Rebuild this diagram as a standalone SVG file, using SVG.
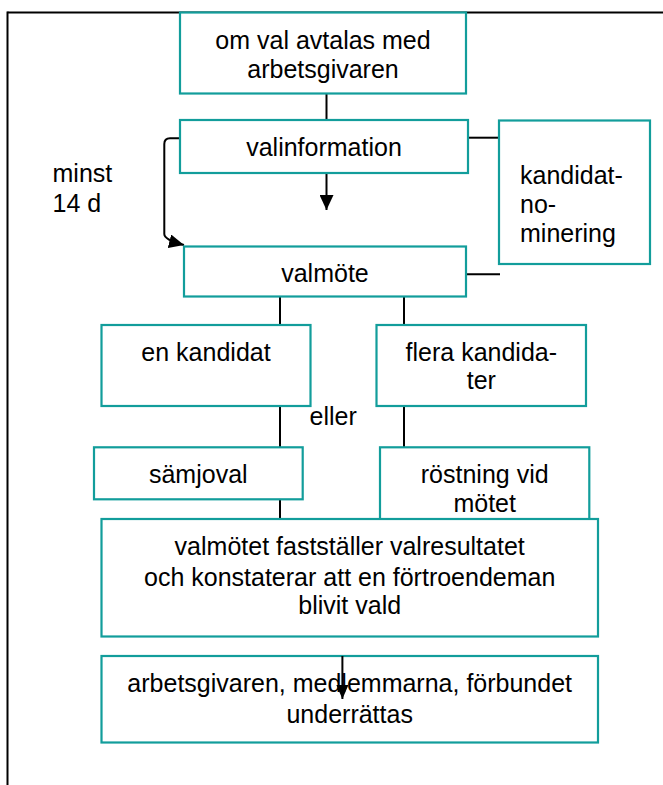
<svg xmlns="http://www.w3.org/2000/svg" width="663" height="785" viewBox="0 0 663 785">
  <style>
    .box { fill: #ffffff; stroke: #129d9b; stroke-width: 2.2; }
    .t { font-family: "Liberation Sans", Arial, sans-serif; font-size: 25px; fill: #000000; }
    .c { text-anchor: middle; }
    .ln { fill: none; stroke: #000000; stroke-width: 2; }
    .frame { fill: none; stroke: #000000; stroke-width: 2; }
  </style>
  <defs>
    <marker id="ah" markerUnits="userSpaceOnUse" markerWidth="16" markerHeight="14" refX="15" refY="7" orient="auto">
      <path d="M0,0 L15,7 L0,14 Z" fill="#000000"/>
    </marker>
    <marker id="ahs" markerUnits="userSpaceOnUse" markerWidth="15" markerHeight="12" refX="14" refY="6" orient="auto">
      <path d="M0,0 L14,6 L0,12 Z" fill="#000000"/>
    </marker>
  </defs>
  <rect width="663" height="785" fill="#ffffff"/>

  <!-- outer frame -->
  <g id="frame">
    <line class="frame" x1="7.5" y1="12.5" x2="663" y2="12.5"/>
    <line class="frame" x1="7.5" y1="11.5" x2="7.5" y2="785"/>
  </g>

  <!-- connectors -->
  <g id="connectors">
    <line class="ln" x1="326.5" y1="93" x2="326.5" y2="120"/>
    <line class="ln" x1="468" y1="137.7" x2="499" y2="137.7"/>
    <line class="ln" x1="326.5" y1="173" x2="326.5" y2="210" marker-end="url(#ah)"/>
    <path class="ln" d="M180,138.3 L170,138.3 Q164.3,138.3 164.3,144 L164.3,234 Q164.3,240 184,245" marker-end="url(#ah)"/>
    <line class="ln" x1="466" y1="274.3" x2="500" y2="274.3"/>
    <line class="ln" x1="280" y1="296.5" x2="280" y2="325"/>
    <line class="ln" x1="404" y1="296.5" x2="404" y2="325"/>
    <line class="ln" x1="280" y1="406" x2="280" y2="447.3"/>
    <line class="ln" x1="404" y1="406" x2="404" y2="447.3"/>
    <line class="ln" x1="280" y1="499.3" x2="280" y2="519"/>
  </g>

  <g id="n1">
    <rect class="box" x="180" y="12.5" width="286" height="81"/>
    <text class="t c" x="323" y="48.5">om val avtalas med</text>
    <text class="t c" x="323" y="77.5">arbetsgivaren</text>
  </g>

  <g id="n2">
    <rect class="box" x="180" y="120" width="288" height="53"/>
    <text class="t c" x="324" y="155.5">valinformation</text>
  </g>

  <g id="n3">
    <rect class="box" x="499" y="120.5" width="151" height="143.5"/>
    <text class="t" x="520" y="184">kandidat-</text>
    <text class="t" x="520" y="213">no-</text>
    <text class="t" x="520" y="241.5">minering</text>
  </g>

  <g id="label-minst">
    <text class="t" x="52.5" y="181.7">minst</text>
    <text class="t" x="52.5" y="211.7">14 d</text>
  </g>

  <g id="n4">
    <rect class="box" x="184" y="246.5" width="282" height="50"/>
    <text class="t c" x="325" y="281.5">valmöte</text>
  </g>

  <g id="n5">
    <rect class="box" x="101.5" y="325" width="209" height="81"/>
    <text class="t c" x="206" y="361">en kandidat</text>
  </g>

  <g id="n6">
    <rect class="box" x="376.5" y="325" width="209.5" height="81"/>
    <text class="t c" x="481.3" y="361">flera kandida-</text>
    <text class="t c" x="481.3" y="389">ter</text>
  </g>

  <g id="label-eller">
    <text class="t" x="309.5" y="425">eller</text>
  </g>

  <g id="n7">
    <rect class="box" x="94" y="447.3" width="208.7" height="52"/>
    <text class="t c" x="198.3" y="482.7">sämjoval</text>
  </g>

  <g id="n8">
    <rect class="box" x="380" y="447.3" width="209.3" height="72"/>
    <text class="t c" x="484.7" y="482.7">röstning vid</text>
    <text class="t c" x="484.7" y="511.7">mötet</text>
  </g>

  <g id="n9">
    <rect class="box" x="101.5" y="519" width="496.5" height="117.5"/>
    <text class="t c" x="349.7" y="555">valmötet fastställer valresultatet</text>
    <text class="t c" x="349.7" y="585.5">och konstaterar att en förtroendeman</text>
    <text class="t c" x="349.7" y="613.5">blivit vald</text>
  </g>

  <g id="n10">
    <rect class="box" x="101.5" y="656" width="496.5" height="86.5"/>
    <text class="t c" x="349.7" y="692">arbetsgivaren, medlemmarna, förbundet</text>
    <text class="t c" x="349.7" y="722.5">underrättas</text>
  </g>

  <g id="connector-overlay">
    <line class="ln" x1="342.4" y1="656" x2="342.4" y2="699" marker-end="url(#ahs)"/>
  </g>
</svg>
